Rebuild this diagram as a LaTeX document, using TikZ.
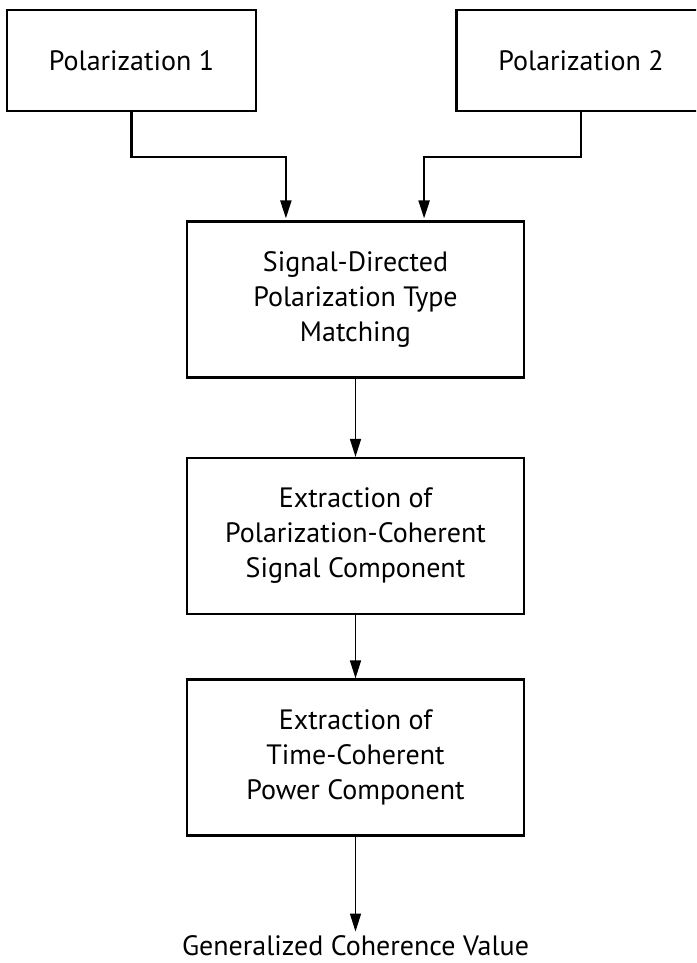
\documentclass[tikz,border=0pt]{standalone}
\usepackage{fontspec}
\setmainfont{PT Sans}
\usetikzlibrary{arrows.meta}

\begin{document}
\begin{tikzpicture}[x=1pt, y=-1pt,
    >={Triangle[width=11pt,length=18pt]},
    box/.style={rectangle, draw, line width=2.2pt, minimum width=337pt, minimum height=156pt,
                align=center, inner sep=0pt, font=\fontsize{28}{35}\selectfont},
    srcbox/.style={box, minimum width=249pt, minimum height=101pt},
    feed/.style={->, line width=2.2pt, shorten >=2pt},
    flow/.style={->, line width=1.4pt}]
    \clip (0,0) rectangle (696,963);

    % Eingaenge
    \node[srcbox] (P1) at (131.5,60.5) {Polarization 1};
    \node[srcbox] (P2) at (581,60.5) {Polarization 2};

    % Verarbeitungsschritte
    \node[box] (S1) at (355.5,299.5) {Signal-Directed\\Polarization Type\\Matching};
    \node[box] (S2) at (355.5,536) {Extraction of\\Polarization-Coherent\\Signal Component};
    \node[box] (S3) at (355.5,757.5) {Extraction of\\Time-Coherent\\Power Component};

    % Ergebnis
    \node[anchor=base, font=\fontsize{28}{35}\selectfont] (out) at (355.5,955) {Generalized Coherence Value};

    % Verbindungen
    \draw[feed] (P1.south) -- ++(0,45) -| ([xshift=100pt]S1.north west);
    \draw[feed] (P2.south) -- ++(0,45) -| ([xshift=-101pt]S1.north east);
    \draw[flow] (S1) -- (S2);
    \draw[flow] (S2) -- (S3);
    \draw[flow] (S3) -- (out);
\end{tikzpicture}
\end{document}
